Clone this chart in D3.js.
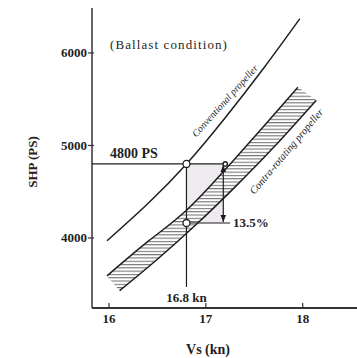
<!DOCTYPE html>
<html>
<head>
<meta charset="utf-8">
<script src="https://cdn.jsdelivr.net/npm/d3@7"></script>
<style>
  html, body { margin: 0; padding: 0; background: #fff; }
  svg { display: block; }
</style>
</head>
<body>
<svg id="chart" width="357" height="358"></svg>
<script>
// ---- data ----
const xTicks = [16, 17, 18];
const yTicks = [4000, 5000, 6000];

const conventionalVs  = [15.98, 16.4, 16.8, 17.2, 17.6, 17.97];
const conventionalShp = [3970, 4370, 4800, 5300, 5840, 6370];

const contraUpperVs  = [15.98, 16.4, 16.8, 17.2, 17.6, 17.95];
const contraUpperShp = [3590, 3960, 4300, 4740, 5210, 5630];

const contraLowerVs  = [16.11, 16.5, 16.9, 17.3, 17.7, 18.14];
const contraLowerShp = [3430, 3770, 4145, 4550, 4980, 5490];

const designSpeed = 16.8;        // kn
const designPower = 4800;        // PS
const contraPower = 4162;        // PS (13.5 % lower)
const arrowSpeed = 17.18;        // position of the 13.5 % dimension arrow
const speedLineBottom = 3470;    // where the 16.8 kn guide stops
const reductionLineEnd = 17.25;
const powerLineEnd = 17.2;

const titleText = "(Ballast condition)";
const powerLabel = "4800 PS";
const speedLabel = "16.8 kn";
const reductionLabel = "13.5%";
const conventionalLabel = "Conventional propeller";
const contraLabel = "Contra-rotating propeller";
const xTitle = "Vs (kn)";
const yTitle = "SHP (PS)";

// ---- scales ----
const x = d3.scaleLinear().domain([15.825, 18.56]).range([92, 357]);
const y = d3.scaleLinear().domain([3243, 6486]).range([308, 8]);

const svg = d3.select("#chart");
const ink = "#1e1e1e";
const serif = "'Liberation Serif', 'DejaVu Serif', serif";

const defs = svg.append("defs");
const pat = defs.append("pattern")
  .attr("id", "hatch").attr("patternUnits", "userSpaceOnUse")
  .attr("width", 6).attr("height", 3.3);
pat.append("rect").attr("width", 6).attr("height", 3.3).attr("fill", "#fff");
pat.append("line").attr("x1", 0).attr("x2", 6).attr("y1", 0.6).attr("y2", 0.6)
  .attr("stroke", "#555").attr("stroke-width", 0.9);

const mk = (id, path) => defs.append("marker")
  .attr("id", id).attr("viewBox", "0 0 10 10").attr("refX", 10).attr("refY", 5)
  .attr("markerWidth", 6).attr("markerHeight", 6).attr("orient", "auto-start-reverse")
  .append("path").attr("d", path).attr("fill", ink);
mk("arr", "M0,1 L10,5 L0,9 Z");

const zip = (a, b) => a.map((v, i) => [v, b[i]]);
const line = d3.line().x(d => x(d[0])).y(d => y(d[1])).curve(d3.curveNatural);

const conv = zip(conventionalVs, conventionalShp);
const up = zip(contraUpperVs, contraUpperShp);
const lo = zip(contraLowerVs, contraLowerShp);

// light shaded saving rectangle
svg.append("rect")
  .attr("x", x(designSpeed)).attr("y", y(designPower))
  .attr("width", x(arrowSpeed) - x(designSpeed))
  .attr("height", y(contraPower) - y(designPower))
  .attr("fill", "#efe9f0");

// hatched band
const bandPath = line(up) + line(lo.slice().reverse()).replace(/^M/, "L") + "Z";
svg.append("path").attr("d", bandPath).attr("fill", "url(#hatch)").attr("stroke", "none");
svg.append("path").attr("d", line(up)).attr("fill", "none").attr("stroke", ink).attr("stroke-width", 1.5);
svg.append("path").attr("d", line(lo)).attr("fill", "none").attr("stroke", ink).attr("stroke-width", 1.5);

// conventional curve
svg.append("path").attr("d", line(conv)).attr("fill", "none").attr("stroke", ink).attr("stroke-width", 1.5);

// axes
svg.append("line").attr("x1", x.range()[0]).attr("x2", x.range()[0])
  .attr("y1", y.range()[0]).attr("y2", y.range()[1]).attr("stroke", "#333").attr("stroke-width", 1.5);
svg.append("line").attr("x1", x.range()[0]).attr("x2", x.range()[1])
  .attr("y1", y.range()[0]).attr("y2", y.range()[0]).attr("stroke", "#333").attr("stroke-width", 1.8);

xTicks.forEach(t => {
  svg.append("line").attr("x1", x(t)).attr("x2", x(t)).attr("y1", y.range()[0]).attr("y2", y.range()[0] - 5)
    .attr("stroke", "#333").attr("stroke-width", 1.2);
  svg.append("text").attr("x", x(t)).attr("y", 323).attr("text-anchor", "middle")
    .attr("font-family", serif).attr("font-weight", "bold").attr("font-size", 13).attr("fill", ink).text(t);
});
yTicks.forEach(t => {
  svg.append("line").attr("x1", x.range()[0] - 4).attr("x2", x.range()[0] + 2).attr("y1", y(t)).attr("y2", y(t))
    .attr("stroke", "#333").attr("stroke-width", 1.2);
  svg.append("text").attr("x", 87).attr("y", y(t) + 4.5).attr("text-anchor", "end")
    .attr("font-family", serif).attr("font-weight", "bold").attr("font-size", 13).attr("fill", ink).text(t);
});

// guide lines
const g = svg.append("g").attr("stroke", ink).attr("stroke-width", 1.2).attr("fill", "none");
g.append("line").attr("x1", x.range()[0]).attr("x2", x(powerLineEnd)).attr("y1", y(designPower)).attr("y2", y(designPower));
g.append("line").attr("x1", x(designSpeed)).attr("x2", x(designSpeed)).attr("y1", y(designPower)).attr("y2", y(speedLineBottom));
g.append("line").attr("x1", x(designSpeed)).attr("x2", x(reductionLineEnd)).attr("y1", y(contraPower)).attr("y2", y(contraPower));
g.append("line").attr("x1", x(arrowSpeed)).attr("x2", x(arrowSpeed))
  .attr("y1", y(designPower) + 1).attr("y2", y(contraPower) - 1)
  .attr("marker-start", "url(#arr)").attr("marker-end", "url(#arr)");

// points
[[designSpeed, designPower, 3.5], [designSpeed, contraPower, 3.5], [powerLineEnd, designPower, 2.2]].forEach(p => {
  svg.append("circle").attr("cx", x(p[0])).attr("cy", y(p[1])).attr("r", p[2])
    .attr("fill", "#fff").attr("stroke", ink).attr("stroke-width", 1.3);
});

// texts
svg.append("text").attr("x", 110).attr("y", 49).attr("font-family", serif).attr("font-size", 13)
  .attr("letter-spacing", 1.1).attr("fill", ink).text(titleText);
svg.append("text").attr("x", 110).attr("y", 158).attr("font-family", serif).attr("font-weight", "bold")
  .attr("font-size", 14).attr("fill", ink).text(powerLabel);
svg.append("text").attr("x", x(designSpeed)).attr("y", 302).attr("text-anchor", "middle").attr("font-family", serif)
  .attr("font-weight", "bold").attr("font-size", 13).attr("fill", ink).text(speedLabel);
svg.append("text").attr("x", x(reductionLineEnd) + 3).attr("y", y(contraPower) + 4.5).attr("font-family", serif)
  .attr("font-weight", "bold").attr("font-size", 13).attr("fill", ink).text(reductionLabel);

svg.append("text").attr("x", 208).attr("y", 354).attr("text-anchor", "middle").attr("font-family", serif)
  .attr("font-weight", "bold").attr("font-size", 14).attr("fill", ink).text(xTitle);
svg.append("text").attr("transform", "translate(37,162) rotate(-90)").attr("text-anchor", "middle")
  .attr("font-family", serif).attr("font-weight", "bold").attr("font-size", 13).attr("fill", ink).text(yTitle);

// curve labels
const convAt = 17.26, convShpAt = 5422;
svg.append("text").attr("transform", `translate(${x(convAt)},${y(convShpAt)}) rotate(-48)`)
  .attr("dy", -5).attr("text-anchor", "middle").attr("font-family", serif).attr("font-style", "italic")
  .attr("font-size", 10).attr("fill", ink).text(conventionalLabel);
const contraAt = 17.74, contraShpAt = 5015;
svg.append("text").attr("transform", `translate(${x(contraAt)},${y(contraShpAt)}) rotate(-50)`)
  .attr("dy", 15).attr("text-anchor", "middle").attr("font-family", serif).attr("font-style", "italic")
  .attr("font-size", 10.5).attr("fill", ink).text(contraLabel);
</script>
</body>
</html>
